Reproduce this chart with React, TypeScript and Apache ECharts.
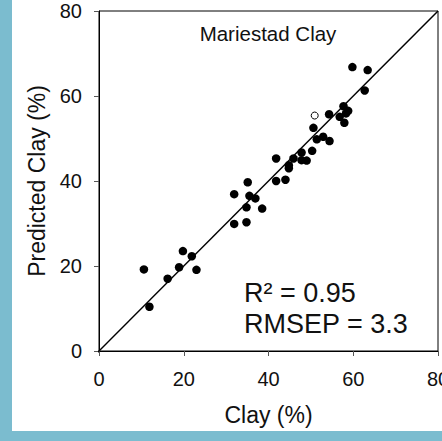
import React, { useEffect, useRef } from "react";
import * as echarts from "echarts";

const filledPoints: number[][] = [
  [10.6, 19.2], [11.9, 10.4], [16.2, 17.0], [18.9, 19.7], [19.8, 23.5], [21.9, 22.3], [23.0, 19.1],
  [31.9, 36.9], [31.9, 29.9], [34.8, 30.3], [34.8, 33.8], [35.1, 39.7], [35.5, 36.5], [36.9, 35.9], [38.5, 33.5],
  [41.8, 45.3], [41.8, 40.0], [44.0, 40.3], [44.8, 43.0], [44.8, 43.7], [45.9, 45.3], [47.8, 46.7], [47.8, 44.9],
  [49.0, 44.8], [50.3, 47.1], [50.6, 52.5], [51.4, 49.8], [52.9, 50.4], [54.4, 49.4], [54.3, 55.7], [56.8, 55.1],
  [57.7, 57.6], [58.3, 55.9], [58.8, 56.5], [57.9, 53.7], [59.8, 66.8], [62.7, 61.3], [63.4, 66.1],
];
const openPoints: number[][] = [[50.9, 55.4]];
const identityLine: number[][] = [[-0.7, -0.7], [80, 80]];
const axisTicks = { min: 0, max: 80, interval: 20 };
const title = "Mariestad Clay";
const statLines = ["R\u00B2 = 0.95", "RMSEP = 3.3"];
const xName = "Clay (%)";
const yName = "Predicted Clay (%)";

const FONT = "Liberation Sans";

export default function App() {
  const ref = useRef<HTMLDivElement>(null);
  useEffect(() => {
    if (!ref.current) return;
    const chart = echarts.init(ref.current, null, { renderer: "svg" });
    chart.setOption({
      animation: false,
      textStyle: { fontFamily: FONT },
      grid: {
        left: 87, right: 4, top: 11, bottom: 80,
        outerBoundsMode: "none",
        containLabel: false,
        show: true, borderColor: "#000", borderWidth: 1, backgroundColor: "transparent",
      },
      xAxis: {
        type: "value",
        min: axisTicks.min,
        max: axisTicks.max,
        interval: axisTicks.interval,
        name: xName,
        nameLocation: "middle",
        nameGap: 52,
        nameTextStyle: { fontSize: 23, color: "#111", fontFamily: FONT },
        axisLine: { show: true, onZero: false, lineStyle: { color: "#000", width: 1 } },
        axisTick: { show: true, inside: false, length: 5, lineStyle: { color: "#555" } },
        axisLabel: { fontSize: 20, color: "#111", margin: 18, fontFamily: FONT, hideOverlap: false },
        splitLine: { show: false },
      },
      yAxis: {
        type: "value",
        min: axisTicks.min,
        max: axisTicks.max,
        interval: axisTicks.interval,
        name: yName,
        nameLocation: "middle",
        nameGap: 50,
        nameRotate: 90,
        nameTextStyle: { fontSize: 23, color: "#111", fontFamily: FONT },
        axisLine: { show: true, onZero: false, lineStyle: { color: "#000", width: 1 } },
        axisTick: { show: true, inside: false, length: 5, lineStyle: { color: "#555" } },
        axisLabel: { fontSize: 20, color: "#111", margin: 17, fontFamily: FONT },
        splitLine: { show: false },
      },
      series: [
        {
          type: "line",
          data: identityLine,
          clip: false,
          symbol: "none",
          lineStyle: { color: "#000", width: 1.5 },
          z: 1,
        },
        {
          type: "scatter",
          data: filledPoints,
          symbol: "circle",
          symbolSize: 8.5,
          itemStyle: { color: "#000", opacity: 1 },
          z: 3,
        },
        {
          type: "scatter",
          data: openPoints,
          symbol: "circle",
          symbolSize: 7,
          itemStyle: { color: "#fff", borderColor: "#000", borderWidth: 1, opacity: 1 },
          z: 3,
        },
      ],
      graphic: [
        {
          type: "text",
          x: 256,
          y: 33,
          style: { text: title, fontSize: 20.5, fill: "#111", fontFamily: FONT, textAlign: "center", textVerticalAlign: "middle" },
        },
        {
          type: "text",
          x: 232,
          y: 293,
          style: { text: statLines[0], fontSize: 27, fill: "#111", fontFamily: FONT, textAlign: "left", textVerticalAlign: "middle" },
        },
        {
          type: "text",
          x: 232,
          y: 324,
          style: { text: statLines[1], fontSize: 27, fill: "#111", fontFamily: FONT, textAlign: "left", textVerticalAlign: "middle" },
        },
      ],
    });
    return () => chart.dispose();
  }, []);
  return (
    <div style={{ position: "fixed", left: 0, top: 0, width: 442, height: 441, background: "#7bbccf", overflow: "hidden" }}>
      <div
        ref={ref}
        style={{ position: "absolute", left: 12, top: 0, width: 430, height: 431, background: "#fff" }}
      />
    </div>
  );
}
